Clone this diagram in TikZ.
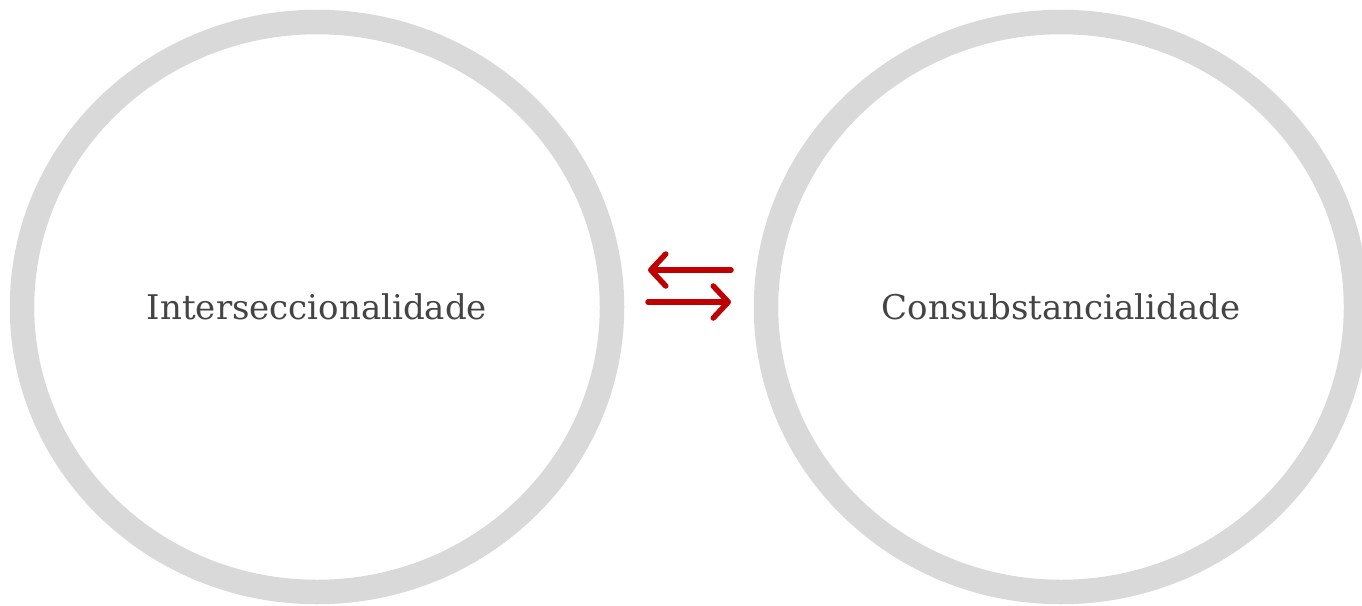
\documentclass[tikz,border=0pt]{standalone}
\usepackage{fontspec}
\setmainfont{DejaVu Serif}
\usetikzlibrary{arrows.meta,shapes.geometric}
\definecolor{ringgray}{HTML}{D9D9D9}
\definecolor{labelgray}{HTML}{444444}
\definecolor{arrowred}{HTML}{C00000}
\begin{document}
\begin{tikzpicture}[x=1pt,y=-1pt,
  ring/.style={ellipse,draw=ringgray,line width=24.5pt,minimum width=590pt,minimum height=570pt,
    inner sep=0pt,text=labelgray,font=\fontsize{34}{40}\selectfont},
  swap/.style={draw=arrowred,line width=5.5pt,line cap=round,
    -{Straight Barb[length=15pt,width=32pt,line cap=round,line join=round]}}]
  \useasboundingbox (0,0) rectangle (1362,605);
  \fill[white] (0,0) rectangle (1362,605);
  \node[ring] (inter) at (317,307) {Interseccionalidade};
  \node[ring] (consub) at (1061,307) {Consubstancialidade};
  \coordinate (tr) at (731,270);
  \coordinate (tl) at (648,270);
  \coordinate (br) at (731,302);
  \coordinate (bl) at (648,302);
  \draw[swap] (tr) -- (tl);
  \draw[swap] (bl) -- (br);
\end{tikzpicture}
\end{document}
